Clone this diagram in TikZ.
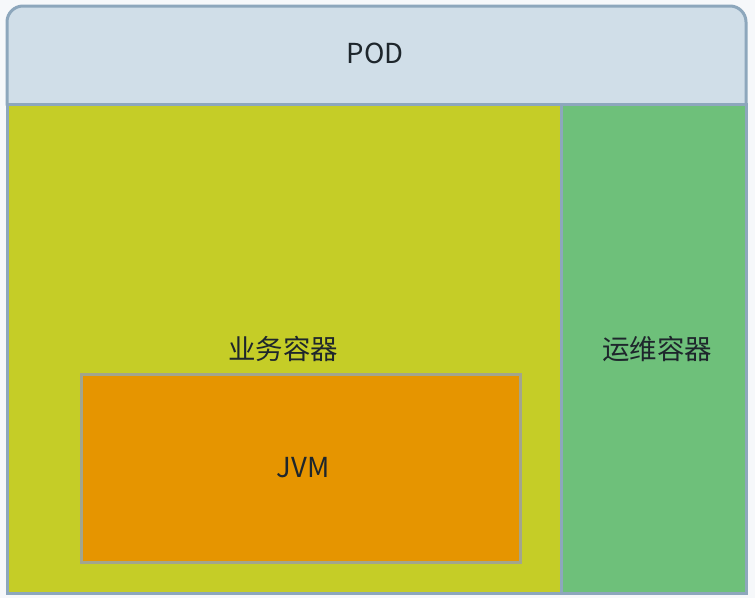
\documentclass[tikz,border=0pt]{standalone}
\usepackage{fontspec}
\setmainfont{Noto Sans CJK SC}
\definecolor{bg}{HTML}{F6F8FA}
\definecolor{hdr}{HTML}{D0DEE8}
\definecolor{bord}{HTML}{8DA7BC}
\definecolor{biz}{HTML}{C5CD27}
\definecolor{ops}{HTML}{6EC07A}
\definecolor{jvm}{HTML}{E69500}
\definecolor{jvmb}{HTML}{A3A58C}
\definecolor{txt}{HTML}{1E262C}
\tikzset{
  lbl/.style={font=\fontsize{27.5}{32}\selectfont, text=txt, inner sep=0pt},
  edge/.style={draw=bord, line width=3pt, line cap=rect},
}
\begin{document}
\begin{tikzpicture}[x=1pt,y=-1pt]
\useasboundingbox (0,0) rectangle (755,598);
\fill[bg] (0,0) rectangle (755,598);
% outer pod header
\fill[hdr, rounded corners=16pt] (7,6) rectangle (746,200);
% business container
\fill[biz] (7,104) rectangle (560,593);
% ops container
\fill[ops] (560,104) rectangle (746,593);
% borders
\draw[edge, rounded corners=16pt] (7,104) -- (7,6) -- (746,6) -- (746,104);
\draw[edge] (7,104) -- (7,593) -- (746,593) -- (746,104);
\draw[edge] (7,104) -- (746,104);
\draw[edge] (561,104) -- (561,593);
% jvm
\path[fill=jvm, draw=jvmb, line width=3pt] (81,374) rectangle (520,562);
\node[lbl] (pod) at (375,53) {POD};
\node[lbl] (biz) at (283,349) {业务容器};
\node[lbl] (ops) at (657,349) {运维容器};
\node[lbl] (jvm) at (303,468) {JVM};
\end{tikzpicture}
\end{document}
